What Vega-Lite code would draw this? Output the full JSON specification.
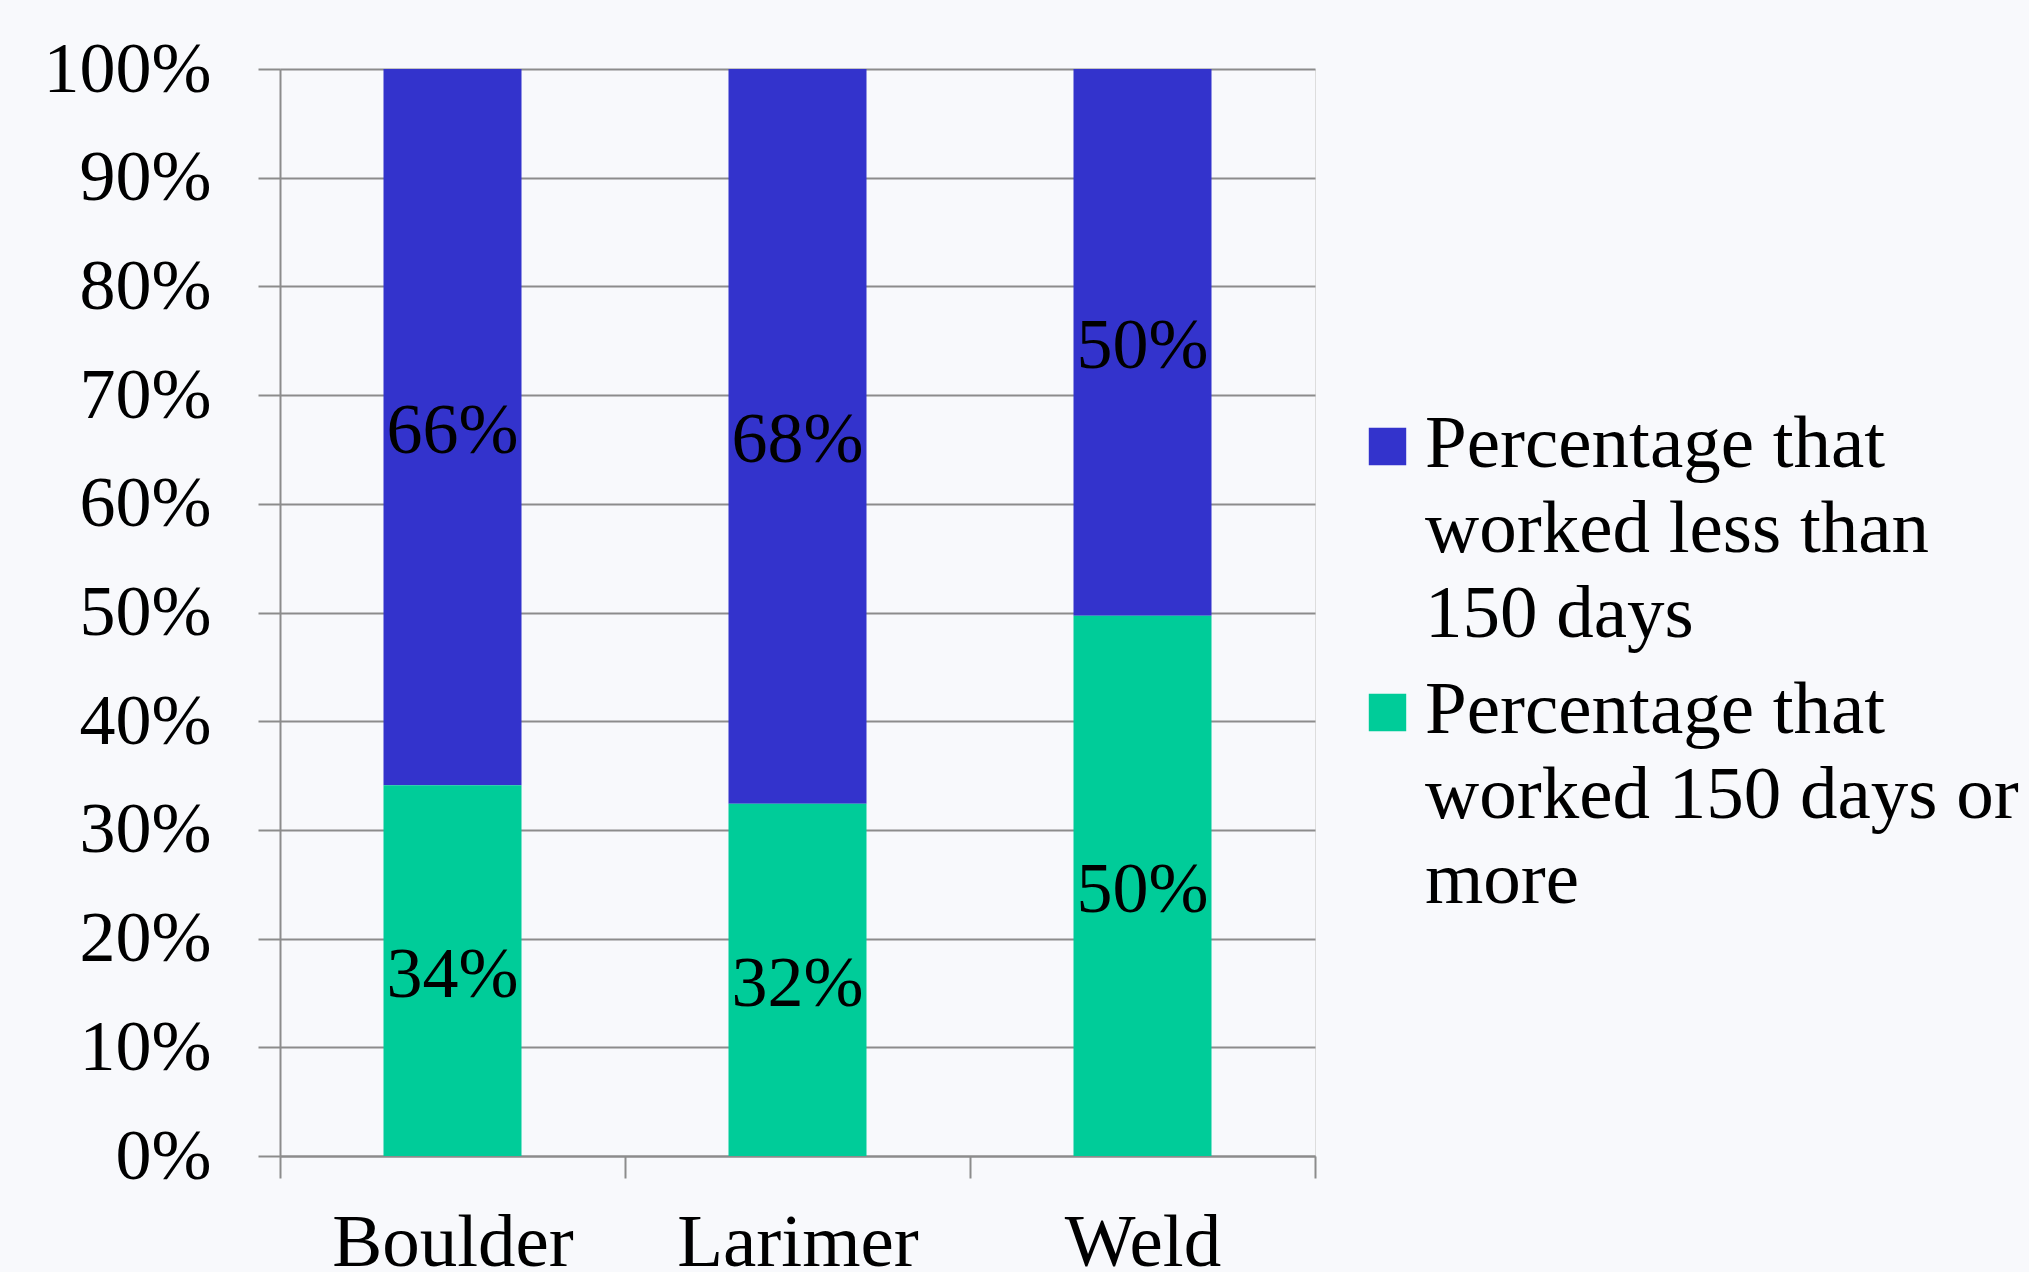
{
  "$schema": "https://vega.github.io/schema/vega-lite/v6.json",
  "autosize": {"type": "none"},
  "width": 1035,
  "height": 1087,
  "padding": {"left": 280, "top": 69, "right": 714, "bottom": 116},
  "background": "#F8F9FC",
  "data": {
    "values": [
      {"county": "Boulder", "group": "Percentage that worked less than 150 days", "value": 0.659},
      {"county": "Boulder", "group": "Percentage that worked 150 days or more", "value": 0.341},
      {"county": "Larimer", "group": "Percentage that worked less than 150 days", "value": 0.676},
      {"county": "Larimer", "group": "Percentage that worked 150 days or more", "value": 0.324},
      {"county": "Weld", "group": "Percentage that worked less than 150 days", "value": 0.503},
      {"county": "Weld", "group": "Percentage that worked 150 days or more", "value": 0.497}
    ]
  },
  "encoding": {
    "x": {
      "field": "county",
      "type": "nominal",
      "sort": ["Boulder", "Larimer", "Weld"],
      "scale": {"paddingInner": 0, "paddingOuter": 0},
      "axis": {
        "title": null,
        "labelAngle": 0,
        "tickBand": "extent",
        "tickSize": 22,
        "tickWidth": 2,
        "tickColor": "#8C8C8C",
        "domainColor": "#8C8C8C",
        "domainWidth": 2,
        "grid": false,
        "labelFont": "Liberation Serif",
        "labelFontSize": 75,
        "labelColor": "#000000",
        "labelLimit": 1000,
        "labelPadding": 28,
        "labelBaseline": "top"
      }
    }
  },
  "layer": [
    {
      "mark": {"type": "bar", "width": {"band": 0.4}},
      "encoding": {
        "y": {
          "field": "value",
          "type": "quantitative",
          "stack": "zero",
          "scale": {"domain": [0, 1]},
          "axis": {
            "title": null,
            "values": [0, 0.1, 0.2, 0.3, 0.4, 0.5, 0.6, 0.7, 0.8, 0.9, 1],
            "format": ".0%",
            "grid": true,
            "gridColor": "#8C8C8C",
            "gridWidth": 2,
            "tickSize": 22,
            "tickWidth": 2,
            "tickColor": "#8C8C8C",
            "domainColor": "#8C8C8C",
            "domainWidth": 2,
            "labelFont": "Liberation Serif",
            "labelFontSize": 72,
            "labelColor": "#000000",
            "labelPadding": 47,
            "labelBaseline": "middle"
          }
        },
        "color": {
          "field": "group",
          "type": "nominal",
          "scale": {
            "domain": ["Percentage that worked less than 150 days", "Percentage that worked 150 days or more"],
            "range": ["#3333CC", "#00CC99"]
          },
          "legend": {
            "title": null,
            "orient": "none",
            "legendX": 1070,
            "legendY": 340,
            "padding": 0,
            "symbolType": "square",
            "symbolSize": 1400,
            "symbolStrokeWidth": 0,
            "labelFont": "Liberation Serif",
            "labelFontSize": 75,
            "labelColor": "#000000",
            "labelLimit": 0,
            "labelOffset": 0,
            "labelBaseline": "alphabetic",
            "rowPadding": 20,
            "labelExpr": "datum.label == 'Percentage that worked less than 150 days' ? ['Percentage that', 'worked less than', '150 days'] : ['Percentage that', 'worked 150 days or', 'more']",
            "encoding": {"labels": {"dy": {"value": 20}, "lineHeight": {"value": 85}}}
          }
        },
        "order": {"field": "group", "sort": "ascending"}
      }
    },
    {
      "mark": {"type": "text", "font": "Liberation Serif", "fontSize": 72, "color": "#000000", "baseline": "middle", "dy": 4},
      "encoding": {
        "y": {"field": "value", "type": "quantitative", "stack": "zero", "bandPosition": 0.5},
        "text": {"field": "value", "type": "quantitative", "format": ".0%"},
        "detail": {"field": "group", "type": "nominal"},
        "order": {"field": "group", "sort": "ascending"}
      }
    }
  ]
}
